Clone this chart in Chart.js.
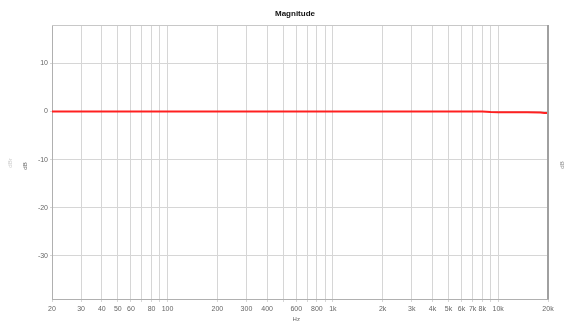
<!DOCTYPE html>
<html>
<head>
<meta charset="utf-8">
<script src="https://cdn.jsdelivr.net/npm/chart.js@4/dist/chart.umd.min.js"></script>
<style>
  html, body { margin: 0; padding: 0; background: #fff; }
  #wrap { width: 565px; height: 322px; position: relative; }
</style>
</head>
<body>
<div id="wrap"><canvas id="magChart" width="565" height="322"></canvas></div>
<script>
// Frequency response data (Hz / dB)
const freqs = [20, 100, 1000, 5000, 8000, 9000, 10000, 15000, 18000, 19000, 20000];
const magnitude = [0, 0, 0, 0, 0, -0.1, -0.15, -0.15, -0.2, -0.3, -0.3];

// Grid lines on the frequency axis, and which of them get labels
const xGrid = [20, 30, 40, 50, 60, 70, 80, 90, 100,
               200, 300, 400, 500, 600, 700, 800, 900, 1000,
               2000, 3000, 4000, 5000, 6000, 7000, 8000, 9000, 10000, 20000];
const xLabels = {
    20: '20', 30: '30', 40: '40', 50: '50', 60: '60', 80: '80', 100: '100',
    200: '200', 300: '300', 400: '400', 600: '600', 800: '800', 1000: '1k',
    2000: '2k', 3000: '3k', 4000: '4k', 5000: '5k', 6000: '6k', 7000: '7k',
    8000: '8k', 10000: '10k', 20000: '20k'
};
const yTicks = [-30, -20, -10, 0, 10];

const tickFont = { family: 'Liberation Sans, Arial, sans-serif', size: 7 };

// Extra texts and frame lines
const framePlugin = {
    id: 'frame',
    afterDraw: function(chart) {
        const ctx = chart.ctx;
        const a = chart.chartArea;
        ctx.save();
        // top and right frame
        ctx.strokeStyle = '#c8c8c8';
        ctx.lineWidth = 1;
        ctx.beginPath();
        ctx.moveTo(a.left, a.top + 0.5);
        ctx.lineTo(a.right, a.top + 0.5);
        ctx.stroke();
        ctx.strokeStyle = '#a0a0a0';
        ctx.lineWidth = 2;
        ctx.beginPath();
        ctx.moveTo(a.right, a.top);
        ctx.lineTo(a.right, a.bottom);
        ctx.stroke();

        // title
        ctx.fillStyle = '#111';
        ctx.font = 'bold 8px Liberation Sans, Arial, sans-serif';
        ctx.textAlign = 'center';
        ctx.textBaseline = 'middle';
        ctx.fillText('Magnitude', 295, 14);

        // x axis unit
        ctx.fillStyle = '#666';
        ctx.font = '6px Liberation Sans, Arial, sans-serif';
        ctx.fillText('Hz', chart.scales.x.getPixelForValue(600), 319);

        // y axis titles
        ctx.save();
        ctx.translate(25, 166);
        ctx.rotate(-Math.PI / 2);
        ctx.fillStyle = '#666';
        ctx.fillText('dB', 0, 0);
        ctx.restore();
        ctx.save();
        ctx.translate(10, 163);
        ctx.rotate(-Math.PI / 2);
        ctx.fillStyle = '#cccccc';
        ctx.fillText('dBr', 0, 0);
        ctx.restore();
        ctx.save();
        ctx.translate(562, 165);
        ctx.rotate(-Math.PI / 2);
        ctx.fillStyle = '#888';
        ctx.fillText('dB', 0, 0);
        ctx.restore();
        ctx.restore();
    }
};

const ctx = document.getElementById('magChart').getContext('2d');
const magChart = new Chart(ctx, {
    type: 'line',
    data: {
        datasets: [{
            data: freqs.map(function(f, i) { return { x: f, y: magnitude[i] }; }),
            borderColor: '#ff2020',
            borderWidth: 2,
            pointRadius: 0,
            tension: 0,
            fill: false
        }]
    },
    options: {
        responsive: false,
        animation: false,
        layout: { padding: { top: 25, right: 17, left: 0, bottom: 0 } },
        plugins: {
            legend: { display: false },
            tooltip: { enabled: false }
        },
        scales: {
            x: {
                type: 'logarithmic',
                min: 20,
                max: 20000,
                afterBuildTicks: function(scale) {
                    scale.ticks = xGrid.map(function(v) { return { value: v }; });
                },
                afterFit: function(scale) { scale.height = 23; },
                grid: { color: '#d6d6d6', lineWidth: 1, tickLength: 3 },
                border: { color: '#b0b0b0' },
                ticks: {
                    autoSkip: false,
                    maxRotation: 0,
                    padding: 3,
                    color: '#666',
                    font: tickFont,
                    callback: function(value) { return xLabels[value] || ''; }
                }
            },
            y: {
                min: -39,
                max: 18,
                afterBuildTicks: function(scale) {
                    scale.ticks = yTicks.map(function(v) { return { value: v }; });
                },
                afterFit: function(scale) { scale.width = 52; },
                grid: { color: '#d6d6d6', lineWidth: 1, tickLength: 2 },
                border: { color: '#b0b0b0' },
                ticks: {
                    padding: 2,
                    color: '#666',
                    font: tickFont
                }
            }
        }
    },
    plugins: [framePlugin]
});
</script>
</body>
</html>
